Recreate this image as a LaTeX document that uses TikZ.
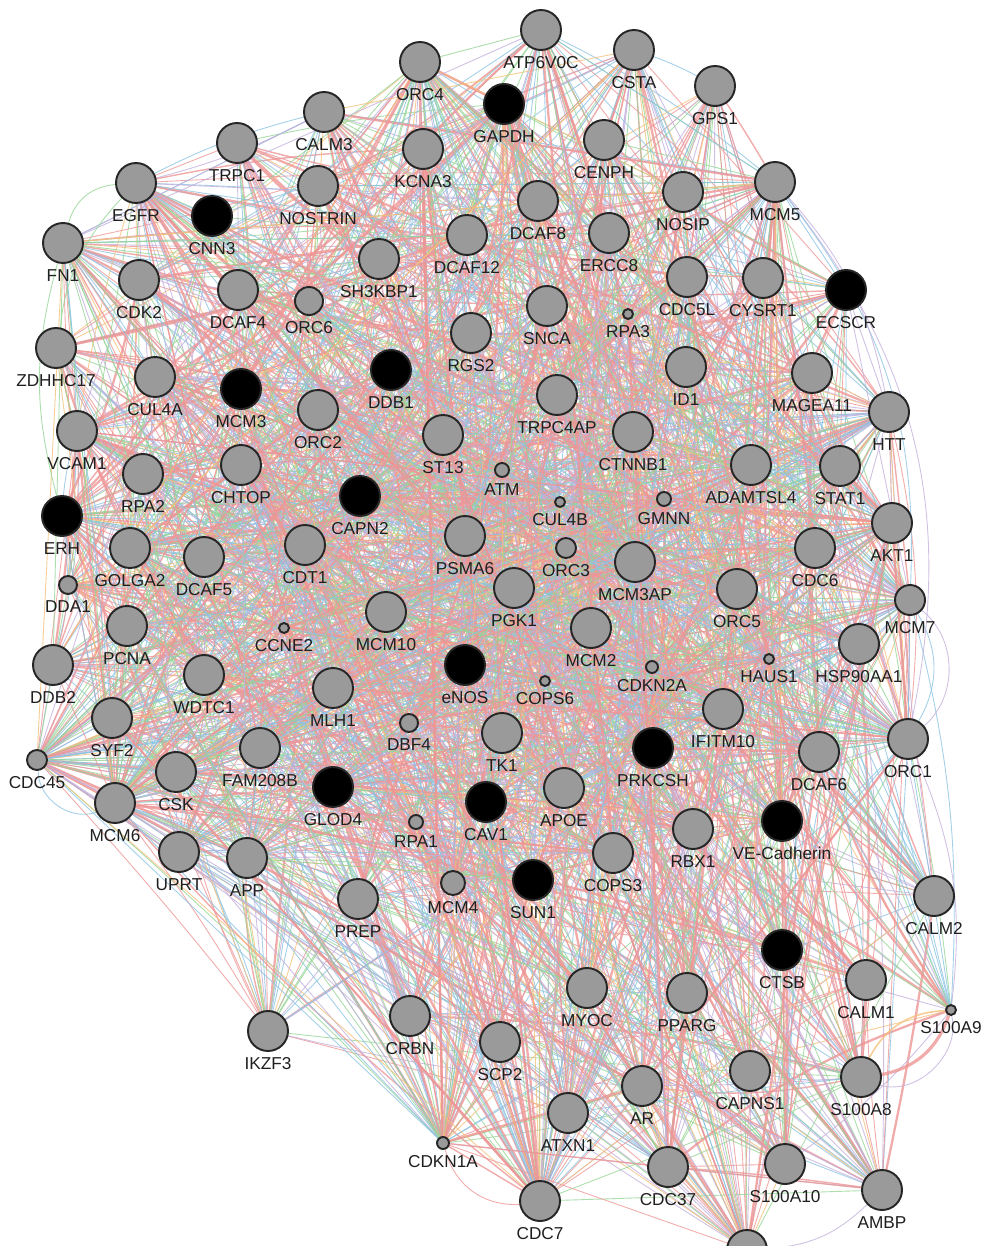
\documentclass[tikz,border=0pt]{standalone}
\usepackage{fontspec}
\setmainfont{Liberation Sans}
\usetikzlibrary{backgrounds}
\definecolor{gn}{RGB}{154,154,154}
\definecolor{qn}{RGB}{0,0,0}
\definecolor{PhysPink}{RGB}{238,150,150}
\definecolor{GenGreen}{RGB}{150,214,150}
\definecolor{ColocBlue}{RGB}{140,196,226}
\definecolor{CoexpLilac}{RGB}{196,176,220}
\definecolor{PredOrange}{RGB}{244,192,122}
\tikzset{
  gene/.style={circle,draw=black!85,line width=1.1pt,inner sep=0pt},
  glabel/.style={font=\fontsize{9.8}{11}\selectfont,inner sep=0pt,text=black!88,label distance=0.1cm},
  ec1/.style={draw=PhysPink,line width=1.3pt,draw opacity=0.8},
  ec2/.style={draw=PhysPink,line width=0.5pt,draw opacity=0.8},
  ec3/.style={draw=PhysPink,line width=0.5pt,draw opacity=0.8},
  ec4/.style={draw=PhysPink,line width=0.8pt,draw opacity=0.8},
  ec5/.style={draw=GenGreen,line width=0.5pt,draw opacity=0.8},
  ec6/.style={draw=GenGreen,line width=0.5pt,draw opacity=0.8},
  ec7/.style={draw=ColocBlue,line width=0.5pt,draw opacity=0.8},
  ec8/.style={draw=ColocBlue,line width=0.5pt,draw opacity=0.8},
  ec9/.style={draw=CoexpLilac,line width=0.5pt,draw opacity=0.8},
  ec10/.style={draw=PredOrange,line width=0.5pt,draw opacity=0.8},
  ec11/.style={draw=CoexpLilac,line width=0.5pt,draw opacity=0.8},
}
\begin{document}
\begin{tikzpicture}[x=0.02cm,y=-0.02cm]
  \useasboundingbox (0,0) rectangle (987,1246);
  % genes: name/x/y/radius/fill/label
  \foreach \nm/\x/\y/\r/\f/\lab [count=\i] in {
    ATP6V0C/541/30/20/gn/ATP6V0C, CSTA/634/50/20/gn/CSTA,
    GAPDH/504/104/20/qn/GAPDH, ORC4/420/62/20/gn/ORC4,
    GPS1/715/86/20/gn/GPS1, CALM3/324/112/20/gn/CALM3,
    TRPC1/237/143/20/gn/TRPC1, CENPH/604/140/20/gn/CENPH,
    KCNA3/423/149/20/gn/KCNA3, EGFR/136/183/20/gn/EGFR,
    NOSTRIN/318/186/20/gn/NOSTRIN, CNN3/212/216/20/qn/CNN3,
    NOSIP/683/192/20/gn/NOSIP, MCM5/775/182/20/gn/MCM5,
    DCAF8/538/201/20/gn/DCAF8, FN1/63/243/20/gn/FN1,
    DCAF12/467/235/20/gn/DCAF12, ERCC8/609/233/20/gn/ERCC8,
    SH3KBP1/379/259/20/gn/SH3KBP1, CDK2/139/280/20/gn/CDK2,
    DCAF4/238/290/20/gn/DCAF4, ORC6/309/301/14/gn/ORC6,
    CDC5L/687/277/20/gn/CDC5L, CYSRT1/763/278/20/gn/CYSRT1,
    ECSCR/846/290/20/qn/ECSCR, SNCA/547/306/20/gn/SNCA,
    RPA3/628/314/5/gn/RPA3, ZDHHC17/56/348/20/gn/ZDHHC17,
    RGS2/471/333/20/gn/RGS2, DDB1/391/370/20/qn/DDB1,
    CUL4A/155/377/20/gn/CUL4A, MCM3/241/389/20/qn/MCM3,
    ID1/686/367/20/gn/ID1, MAGEA11/812/373/20/gn/MAGEA11,
    TRPC4AP/557/395/20/gn/TRPC4AP, HTT/889/412/20/gn/HTT,
    VCAM1/77/431/20/gn/VCAM1, ORC2/318/410/20/gn/ORC2,
    ST13/443/435/20/gn/ST13, CTNNB1/633/432/20/gn/CTNNB1,
    CHTOP/241/465/20/gn/CHTOP, RPA2/143/474/20/gn/RPA2,
    ATM/502/470/7/gn/ATM, CAPN2/360/496/20/qn/CAPN2,
    ADAMTSL4/751/465/20/gn/ADAMTSL4, STAT1/840/466/20/gn/STAT1,
    ERH/62/516/20/qn/ERH, CUL4B/560/502/5/gn/CUL4B,
    GMNN/664/499/7/gn/GMNN, AKT1/892/523/20/gn/AKT1,
    GOLGA2/130/548/20/gn/GOLGA2, DCAF5/204/557/20/gn/DCAF5,
    CDT1/305/545/20/gn/CDT1, PSMA6/465/536/20/gn/PSMA6,
    ORC3/566/548/10/gn/ORC3, CDC6/815/548/20/gn/CDC6,
    MCM3AP/635/562/20/gn/MCM3AP, DDA1/68/585/9/gn/DDA1,
    PGK1/514/588/20/gn/PGK1, ORC5/737/589/20/gn/ORC5,
    MCM7/910/600/15/gn/MCM7, PCNA/127/626/20/gn/PCNA,
    CCNE2/284/628/5/gn/CCNE2, MCM10/386/612/20/gn/MCM10,
    MCM2/591/628/20/gn/MCM2, HSP90AA1/859/644/20/gn/HSP90AA1,
    DDB2/53/665/20/gn/DDB2, WDTC1/204/675/20/gn/WDTC1,
    eNOS/465/665/20/qn/eNOS, CDKN2A/652/667/6/gn/CDKN2A,
    HAUS1/769/659/5/gn/HAUS1, COPS6/545/681/5/gn/COPS6,
    MLH1/333/688/20/gn/MLH1, IFITM10/723/709/20/gn/IFITM10,
    SYF2/112/718/20/gn/SYF2, DBF4/409/723/9/gn/DBF4,
    TK1/502/733/20/gn/TK1, ORC1/908/739/20/gn/ORC1,
    PRKCSH/653/748/20/qn/PRKCSH, FAM208B/260/748/20/gn/FAM208B,
    DCAF6/819/752/20/gn/DCAF6, CDC45/37/760/10/gn/CDC45,
    CSK/176/772/20/gn/CSK, GLOD4/333/787/20/qn/GLOD4,
    APOE/564/788/20/gn/APOE, MCM6/115/803/20/gn/MCM6,
    CAV1/486/802/20/qn/CAV1, RPA1/416/822/7/gn/RPA1,
    VECad/782/821/20/qn/VE-Cadherin, RBX1/693/829/20/gn/RBX1,
    UPRT/179/852/20/gn/UPRT, APP/247/858/20/gn/APP,
    COPS3/613/853/20/gn/COPS3, SUN1/533/880/20/qn/SUN1,
    MCM4/453/883/12/gn/MCM4, PREP/358/899/20/gn/PREP,
    CALM2/934/896/20/gn/CALM2, CTSB/782/950/20/qn/CTSB,
    CALM1/866/980/20/gn/CALM1, S100A9/951/1010/5/gn/S100A9,
    MYOC/587/988/20/gn/MYOC, PPARG/687/993/20/gn/PPARG,
    CRBN/410/1016/20/gn/CRBN, IKZF3/268/1031/20/gn/IKZF3,
    SCP2/500/1042/20/gn/SCP2, CAPNS1/750/1071/20/gn/CAPNS1,
    S100A8/861/1077/20/gn/S100A8, AR/642/1086/20/gn/AR,
    ATXN1/568/1113/20/gn/ATXN1, CDKN1A/443/1143/6/gn/CDKN1A,
    CDC37/668/1167/20/gn/CDC37, S100A10/785/1164/20/gn/S100A10,
    AMBP/882/1190/20/gn/AMBP, CDC7/540/1201/20/gn/CDC7,
    cut/747/1250/20/gn/{}}
    \node[gene,fill=\f,minimum size=\r*0.04cm,alias=n\i,
      label={[glabel]below:\lab}] (\nm) at (\x,\y) {};

  \begin{scope}[on background layer]
    \pgfmathsetseed{2718}
    % random mesh of interactions
    \foreach \k in {1,...,1500}{
      \pgfmathrandominteger{\a}{1}{115}
      \pgfmathrandominteger{\b}{1}{115}
      \pgfmathrandominteger{\c}{1}{11}
      \pgfmathrandominteger{\bb}{-10}{10}
      \ifnum\a=\b\else
        \draw[ec\c] (n\a.center) to[bend left=\bb] (n\b.center);
      \fi
    }
    % denser core among the middle genes
    \foreach \k in {1,...,500}{
      \pgfmathrandominteger{\a}{29}{95}
      \pgfmathrandominteger{\b}{29}{95}
      \pgfmathrandominteger{\c}{1}{11}
      \ifnum\a=\b\else
        \draw[ec\c] (n\a.center) -- (n\b.center);
      \fi
    }
    % hub fans
    \foreach \h/\m in {CDC45/45,MCM6/40,CDKN1A/40,CDC7/45,MCM5/45,GAPDH/30,
        ORC4/30,EGFR/30,FN1/25,HTT/25,ORC1/35,MCM7/30,AKT1/25,CSTA/20,
        ATP6V0C/15,AMBP/15,cut/20,CDC37/15,S100A10/10,APP/20}{
      \foreach \k in {1,...,\m}{
        \pgfmathrandominteger{\b}{1}{115}
        \pgfmathrandominteger{\c}{1}{11}
        \draw[ec\c] (\h.center) -- (n\b.center);
      }
    }
    % curved ones
    \draw[ec5] (FN1) to[bend left=35] (EGFR);
    \draw[ec5] (EGFR) to[bend right=30] (VCAM1);
    \draw[ec6] (FN1) to[bend right=15] (ERH);
    \draw[ec7] (CDC45) to[bend right=55] (MCM6);
    \draw[ec2] (CDKN1A) to[bend right=40] (CDC7);
    \draw[ec1,line width=1.8pt] (S100A9) to[bend left=30] (S100A8);
    \draw[ec10,line width=0.9pt] (S100A9) to[bend right=30] (S100A8);
    \draw[ec9] (S100A9) to[bend left=60] (S100A8);
    \draw[ec9] (MCM7) to[bend left=50] (ORC1);
    \draw[ec7] (MCM7) to[bend left=30] (ORC1);
    \draw[ec9] (MCM5) to[bend left=25] (ORC1);
    \draw[ec7] (MCM5) to[bend left=20] (MCM7);
    \draw[ec9] (MCM5) to[bend left=15] (HTT);
    \draw[ec9] (ORC1) to[bend left=15] (S100A9);
    \draw[ec9] (AMBP) to[bend left=20] (cut);
  \end{scope}
\end{tikzpicture}
\end{document}
